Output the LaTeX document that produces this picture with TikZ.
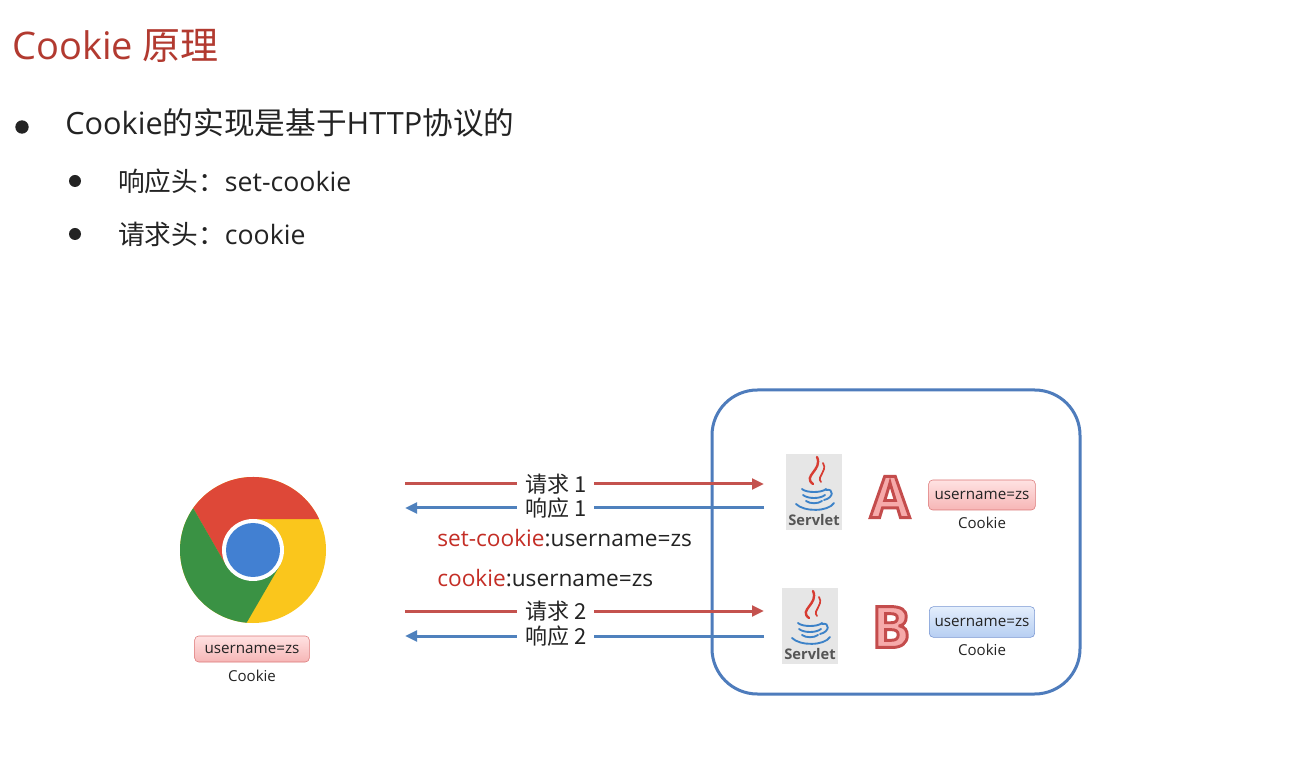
\documentclass[tikz,border=0pt]{standalone}
\usepackage{fontspec}
\setmainfont{Open Sans}
\newfontfamily\zhfont{Noto Sans CJK SC}
\newcommand{\zh}[1]{{\zhfont #1}}
% outlined letter: pink fill, red stroke
\newcommand{\outlined}[1]{{\color{lettfill}\special{pdf:code q 2 Tr 2.2 w 0.77 0.3 0.3 RG}#1\special{pdf:code Q}}}
\usepackage{tikz}
\usetikzlibrary{arrows.meta}
\usetikzlibrary{shapes,positioning,calc}
\definecolor{titlered}{RGB}{178,58,48}
\definecolor{textgray}{RGB}{35,35,35}
\definecolor{reqred}{RGB}{196,82,78}
\definecolor{resblue}{RGB}{79,129,189}
\definecolor{boxblue}{RGB}{78,124,188}
\definecolor{setred}{RGB}{196,46,38}
\definecolor{servgray}{RGB}{230,230,230}
\definecolor{servtext}{RGB}{85,85,85}
\definecolor{javared}{RGB}{215,60,50}
\definecolor{javablue}{RGB}{60,130,200}
\definecolor{ckline}{RGB}{220,120,120}
\definecolor{cktop}{RGB}{255,226,226}
\definecolor{ckbot}{RGB}{246,182,182}
\definecolor{ckbline}{RGB}{120,150,210}
\definecolor{ckbtop}{RGB}{228,238,252}
\definecolor{ckbbot}{RGB}{182,206,242}
\definecolor{lettfill}{RGB}{246,170,170}
\definecolor{chromered}{RGB}{222,72,56}
\definecolor{chromeyellow}{RGB}{250,198,28}
\definecolor{chromegreen}{RGB}{58,146,68}
\definecolor{chromeblue}{RGB}{66,128,210}

\begin{document}
\begin{tikzpicture}[x=0.75pt,y=-0.75pt,
	dot/.style={circle,fill=textgray,inner sep=0pt,minimum size=#1},
	textline/.style={anchor=base west,inner sep=0pt,text=textgray},
	req/.style={draw=reqred,line width=2.25pt,-{Triangle[length=9pt,width=8pt]}},
	res/.style={draw=resblue,line width=2.25pt,-{Triangle[length=9pt,width=8pt]}},
	lbl/.style={fill=white,inner xsep=6pt,inner ysep=1pt,text=textgray,font=\zhfont\fontsize{16.5}{18}\selectfont},
	ck/.style={draw=ckline,top color=cktop,bottom color=ckbot,rounded corners=3pt,inner sep=0pt,
		minimum width=80pt,minimum height=22.5pt,text=textgray,font=\fontsize{11.4}{12}\selectfont},
	ckb/.style={ck,draw=ckbline,top color=ckbtop,bottom color=ckbbot},
	cktext/.style={inner sep=0pt,text=textgray,font=\fontsize{11.3}{12}\selectfont},
	letter/.style={inner sep=0pt,font=\bfseries\fontsize{43}{44}\selectfont},
	servlet/.pic={
		\node[fill=servgray,minimum width=42pt,minimum height=57pt,inner sep=0pt] (-box) {};
		\draw[javared,line width=1.8pt,line cap=round] (-1,-8) .. controls (-12,-16) and (9,-22) .. (3,-35);
		\draw[javared,line width=1.3pt,line cap=round] (7,-10) .. controls (2,-16) and (14,-20) .. (9,-29);
		\draw[javablue,line width=1.4pt,line cap=round] (-12,-3) .. controls (-8,1) and (8,1) .. (12,-3)
			(-11,3) .. controls (-6,7) and (6,7) .. (11,3)
			(-8,9) .. controls (-4,12) and (4,12) .. (8,9)
			(12,-2) .. controls (20,-4) and (20,6) .. (10,8)
			(-18,12) .. controls (-10,20) and (14,20) .. (20,11);
		\node[inner sep=0pt,text=servtext,font=\bfseries\fontsize{11}{12}\selectfont] (-name) at (0,28) {Servlet};
	}]
	\useasboundingbox[fill=white] (0,0) rectangle (1296,762);

	% title and bullets
	\node[textline,text=titlered,font=\fontsize{28.5}{32}\selectfont] (title) at (12,60) {Cookie \zh{原理}};
	\node[dot=10pt] (b1) at (22,127) {};
	\node[textline,font=\fontsize{23}{26}\selectfont] (l1) at (65,135) {Cookie\zh{的实现是基于}HTTP\zh{协议的}};
	\node[dot=9pt] (b2) at (75,181) {};
	\node[textline,font=\fontsize{20}{24}\selectfont] (l2) at (118,192) {\zh{响应头：}set-cookie};
	\node[dot=9pt] (b3) at (75,234) {};
	\node[textline,font=\fontsize{20}{24}\selectfont] (l3) at (118,245) {\zh{请求头：}cookie};

	% browser
	\begin{scope}[shift={(253,550)},yscale=-1]
		\fill[chromeyellow] (0,0) circle (73);
		\fill[chromered] (90:31) -- (25:73) arc[start angle=25,end angle=145,radius=73] -- (210:31) -- (0,0) -- cycle;
		\fill[chromegreen] (210:31) -- (145:73) arc[start angle=145,end angle=265,radius=73] -- (330:31) -- (0,0) -- cycle;
		\fill[white] (0,0) circle (31);
		\fill[chromeblue] (0,0) circle (27);
	\end{scope}
	\node[ck,minimum width=86pt,minimum height=19.5pt] (ck0) at (252,649) {username=zs};
	\node[cktext,below=5.5pt of ck0] (cap0) {Cookie};

	% server
	\node[draw=boxblue,line width=2.25pt,rounded corners=34pt,minimum width=276pt,minimum height=228pt] (server) at (896,542) {};
	\pic (sa) at (814,492) {servlet};
	\pic (sb) at (810,626) {servlet};
	\node[letter] (lettA) at (890,497) {\outlined{A}};
	\node[letter] (lettB) at (891,627) {\outlined{B}};
	\node[ck] (ckA) at (982,495) {username=zs};
	\node[cktext,below=5pt of ckA] (capA) {Cookie};
	\node[ckb,minimum width=79pt,minimum height=23pt] (ckB) at (982,622) {username=zs};
	\node[cktext,below=5pt of ckB] (capB) {Cookie};

	% requests and responses
	\coordinate (q1l) at (405,484); \coordinate (q1r) at (764,484);
	\coordinate (p1l) at (405,508); \coordinate (p1r) at (764,508);
	\coordinate (q2l) at (405,611); \coordinate (q2r) at (764,611);
	\coordinate (p2l) at (405,636); \coordinate (p2r) at (764,636);
	\draw[req] (q1l) -- node[lbl,pos=0.42] (t1) {请求 1} (q1r);
	\draw[res] (p1r) -- node[lbl,pos=0.58] (t2) {响应 1} (p1l);
	\draw[req] (q2l) -- node[lbl,pos=0.42] (t3) {请求 2} (q2r);
	\draw[res] (p2r) -- node[lbl,pos=0.58] (t4) {响应 2} (p2l);
	\node[inner sep=0pt,anchor=west,text=textgray,font=\fontsize{17}{20}\selectfont] (setck) at (437,538)
		{\textcolor{setred}{set-cookie}:username=zs};
	\node[inner sep=0pt,anchor=west,text=textgray,font=\fontsize{17}{20}\selectfont] (getck) at (437,578)
		{\textcolor{setred}{cookie}:username=zs};
\end{tikzpicture}
\end{document}
